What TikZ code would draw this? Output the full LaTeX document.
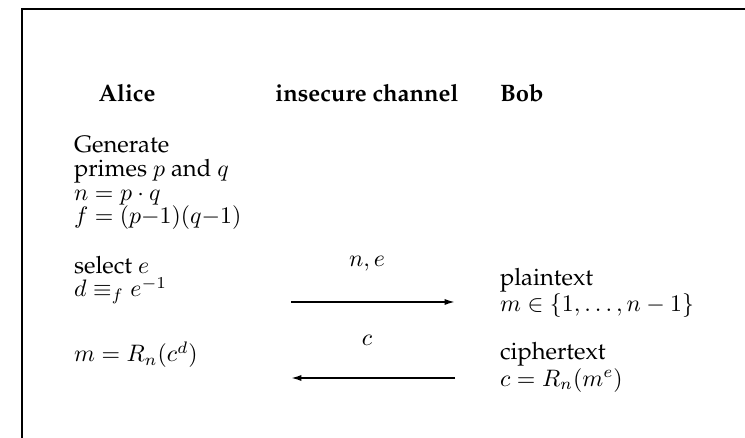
\documentclass[tikz,border=0pt]{standalone}
\usetikzlibrary{arrows.meta}
\newcommand\palfont{\fontencoding{T1}\fontfamily{ppl}\selectfont}
\begin{document}
\begin{tikzpicture}[x=0.42pt,y=-0.42pt,
  every node/.style={inner sep=0pt, outer sep=0pt, font=\palfont\fontsize{10}{10}\selectfont},
  head/.style={anchor=base, font=\palfont\bfseries\fontsize{10}{12}\selectfont},
  txt/.style={anchor=base west, align=left},
  lbl/.style={anchor=base},
  msg/.style={line width=0.7pt, -{Latex[length=4.4pt,width=2.6pt]}}]
\useasboundingbox (0,0) rectangle (745,438);
\draw[line width=0.85pt] (22,438) |- (745,9);
% headers
\node[head] (alice) at (127,102) {Alice};
\node[head] (chan) at (367,102) {insecure channel};
\node[head,anchor=base west] (bob) at (500,102) {Bob};
% Alice (anchor = baseline of the last line)
\node[txt] (gen) at (74,224) {Generate\\primes $p$ and $q$\\$n=p\cdot q$\\$f=(p{-}1)(q{-}1)$};
\node[txt] (sel) at (74,297) {select $e$\\$d\equiv_f e^{-1}$};
\node[txt] (dec) at (74,362) {$m=R_n(c^d)$};
% Bob
\node[txt] (plain) at (500,312) {plaintext\\$m\in\{1,\ldots,n-1\}$};
\node[txt] (ciph) at (500,386) {ciphertext\\$c=R_n(m^e)$};
% channel
\coordinate (a1l) at (291,302);
\coordinate (a1r) at (455,302);
\coordinate (a2l) at (291,378);
\coordinate (a2r) at (455,378);
\draw[msg] (a1l) -- (a1r);
\draw[msg] (a2r) -- (a2l);
\node[lbl] (ne) at (367,267) {$n,e$};
\node[lbl] (cc) at (367,346) {$c$};
\end{tikzpicture}
\end{document}
